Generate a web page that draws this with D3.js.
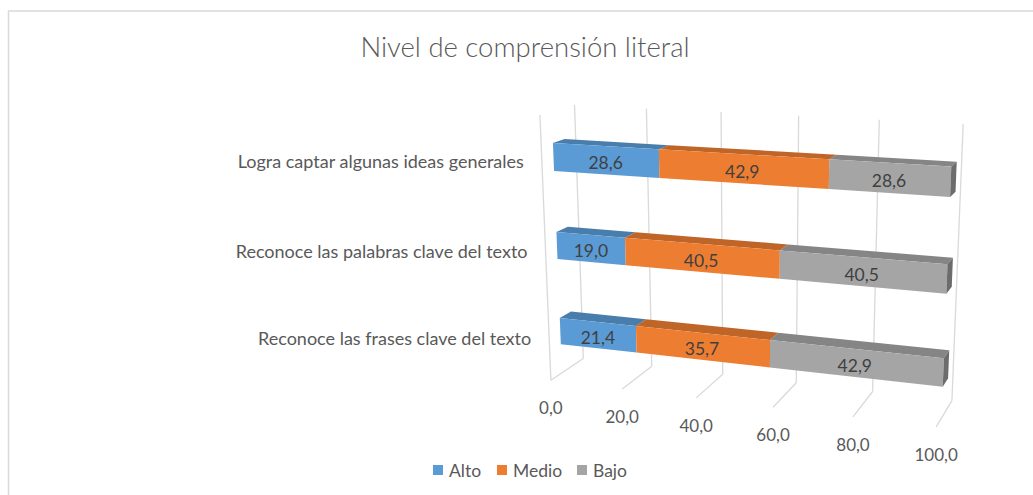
<!DOCTYPE html>
<html>
<head>
<meta charset="utf-8">
<script src="https://cdn.jsdelivr.net/npm/d3@7"></script>
<style>
  body { margin: 0; background: #fff; }
  text { font-family: Lato, "Open Sans", sans-serif; }
</style>
</head>
<body>
<div id="wrapper"></div>
<script>
// chart data
var categories = ["Logra captar algunas ideas generales", "Reconoce las palabras clave del texto", "Reconoce las frases clave del texto"];
var seriesNames = ["Alto", "Medio", "Bajo"];
var alto = [28.6, 19.0, 21.4];
var medio = [42.9, 40.5, 35.7];
var bajo = [28.6, 40.5, 42.9];
var tickValues = [0, 20, 40, 60, 80, 100];
var colors = ["#5b9bd5", "#ed7d31", "#a5a5a5"];

// camera calibration of the 3D frame: [value, height 0..1, depth 0..1] -> screen px
var frameAnchors = [
    [[0, 0, 0], [552, 378]], [[0, 1, 0], [541, 114]],
    [[0, 0, 1], [583, 363]], [[0, 1, 1], [575, 105]],
    [[20, 1, 1], [646, 108]], [[40, 1, 1], [721, 112]], [[60, 1, 1], [798, 116]],
    [[80, 1, 1], [879, 120]], [[100, 1, 1], [963, 125]],
    [[20, 0, 0], [622, 388]], [[40, 0, 0], [696, 398]], [[60, 0, 0], [772, 408]],
    [[80, 0, 0], [853, 418]], [[100, 0, 0], [936, 428]],
    [[20, 0, 1], [651, 367]], [[40, 0, 1], [723, 373]], [[60, 0, 1], [797, 382]],
    [[80, 0, 1], [873, 390]], [[100, 0, 1], [953, 397]],
    // category axis positions at the bar plane (mid depth front)
    [[0, 5 / 6, 0.33], [553, 157]], [[0, 0.5, 0.33], [557, 246]], [[0, 1 / 6, 0.33], [560, 330.5]],
    [[100, 5 / 6, 0.33], [951, 180.5]], [[100, 0.5, 0.33], [948, 280.5]], [[100, 1 / 6, 0.33], [942, 374.5]]
];

function solve(M, r) {
    var n = r.length;
    for (var i = 0; i < n; i++) {
        var p = i;
        for (var k = i + 1; k < n; k++) if (Math.abs(M[k][i]) > Math.abs(M[p][i])) p = k;
        var t = M[i]; M[i] = M[p]; M[p] = t;
        var tr = r[i]; r[i] = r[p]; r[p] = tr;
        for (var k = i + 1; k < n; k++) {
            var f = M[k][i] / M[i][i];
            for (var j = i; j < n; j++) M[k][j] -= f * M[i][j];
            r[k] -= f * r[i];
        }
    }
    var x = new Array(n).fill(0);
    for (var i = n - 1; i >= 0; i--) {
        var s = r[i];
        for (var j = i + 1; j < n; j++) s -= M[i][j] * x[j];
        x[i] = s / M[i][i];
    }
    return x;
}

function draw() {
    var width = 1033, height = 495;
    var svg = d3.select("#wrapper").append("svg")
        .attr("width", width)
        .attr("height", height);

    svg.append("rect")
        .attr("x", 8.5).attr("y", 11)
        .attr("width", 1100).attr("height", 600)
        .attr("fill", "none")
        .attr("stroke", "#d9d9d9")
        .attr("stroke-width", 1.5);

    svg.append("text")
        .attr("x", 525).attr("y", 57)
        .attr("text-anchor", "middle")
        .style("font-size", "27.5px")
        .style("font-weight", 300)
        .attr("fill", "#595959")
        .text("Nivel de comprensión literal");

    var xScale = d3.scaleLinear().domain([0, 100]).range([0, 1]);
    var yScale = d3.scaleBand().domain(categories).range([1, 0])
        .paddingInner(0.69).paddingOuter(0.345);
    var zFront = 0.33, zBack = 0.67;

    // fit projection (DLT least squares), screen normalised around (700,250)
    var A = [], b = [];
    frameAnchors.forEach(function(a) {
        var X = xScale(a[0][0]), Y = a[0][1], Z = a[0][2];
        var u = (a[1][0] - 700) / 300, v = (a[1][1] - 250) / 300;
        A.push([X, Y, Z, 1, 0, 0, 0, 0, -u * X, -u * Y, -u * Z]); b.push(u);
        A.push([0, 0, 0, 0, X, Y, Z, 1, -v * X, -v * Y, -v * Z]); b.push(v);
    });
    var M = [], r = [];
    for (var i = 0; i < 11; i++) {
        M.push(new Array(11).fill(0)); r.push(0);
        for (var k = 0; k < A.length; k++) {
            for (var j = 0; j < 11; j++) M[i][j] += A[k][i] * A[k][j];
            r[i] += A[k][i] * b[k];
        }
    }
    var P = solve(M, r);
    function project(value, Y, Z) {
        var X = xScale(value);
        var w = P[8] * X + P[9] * Y + P[10] * Z + 1;
        return [
            ((P[0] * X + P[1] * Y + P[2] * Z + P[3]) / w) * 300 + 700,
            ((P[4] * X + P[5] * Y + P[6] * Z + P[7]) / w) * 300 + 250
        ];
    }
    function line(pts) { return "M" + pts.map(function(p) { return p.join(","); }).join("L"); }
    function poly(pts) { return line(pts) + "Z"; }

    var grid = svg.append("g")
        .attr("fill", "none")
        .attr("stroke", "#d9d9d9")
        .attr("stroke-width", 1.3);
    tickValues.forEach(function(t) {
        grid.append("path").attr("d", line([project(t, 0, 1), project(t, 1, 1)]));
        grid.append("path").attr("d", line([project(t, 0, 0), project(t, 0, 1)]));
    });
    grid.append("path").attr("d", line([project(0, 0, 0), project(0, 1, 0)]));

    // value axis labels
    var fmt = d3.formatLocale({decimal: ",", thousands: ".", grouping: [3], currency: ["", ""]}).format(".1f");
    svg.append("g").selectAll("text")
        .data(tickValues)
        .join("text")
        .attr("x", function(d) { return project(d, 0, 0)[0]; })
        .attr("y", function(d) { return project(d, 0, 0)[1] + 34; })
        .attr("text-anchor", "middle")
        .style("font-size", "17px")
        .attr("fill", "#595959")
        .text(function(d) { return fmt(d); });

    // category labels
    function catMid(d) { return yScale(d) + yScale.bandwidth() / 2; }
    svg.append("g").selectAll("text")
        .data(categories)
        .join("text")
        .attr("x", function(d) { return project(0, catMid(d), 0)[0] - 18; })
        .attr("y", function(d) { return project(0, catMid(d), 0)[1] + 7; })
        .attr("text-anchor", "end")
        .style("font-size", "18px")
        .attr("fill", "#595959")
        .text(function(d) { return d; });

    // stacked (100%) data
    var rows = categories.map(function(c, i) {
        return {cat: c, Alto: alto[i], Medio: medio[i], Bajo: bajo[i]};
    });
    var stacked = d3.stack().keys(seriesNames).offset(d3.stackOffsetExpand)(rows);

    var bars = svg.append("g");
    categories.forEach(function(c, ci) {
        var yb = yScale(c), yt = yScale(c) + yScale.bandwidth();
        stacked.forEach(function(layer, si) {
            var x0 = layer[ci][0] * 100, x1 = layer[ci][1] * 100;
            var col = colors[si];
            bars.append("path")
                .attr("d", poly([project(x0, yt, zFront), project(x1, yt, zFront), project(x1, yt, zBack), project(x0, yt, zBack)]))
                .attr("fill", d3.color(col).darker(0.6));
            bars.append("path")
                .attr("d", poly([project(x0, yb, zFront), project(x1, yb, zFront), project(x1, yt, zFront), project(x0, yt, zFront)]))
                .attr("fill", col);
            if (si === stacked.length - 1) {
                bars.append("path")
                    .attr("d", poly([project(x1, yb, zFront), project(x1, yb, zBack), project(x1, yt, zBack), project(x1, yt, zFront)]))
                    .attr("fill", d3.color(col).darker(1.2));
            }
            var value = [alto, medio, bajo][si][ci];
            var mid = project((x0 + x1) / 2, (yt + yb) / 2, zFront);
            bars.append("text")
                .attr("x", mid[0])
                .attr("y", mid[1] + 9)
                .attr("text-anchor", "middle")
                .style("font-size", "17.5px")
                .attr("fill", "#404040")
                .text(fmt(value));
        });
    });

    // legend
    var legend = svg.append("g").attr("transform", "translate(433,465)");
    var lx = [0, 64, 144];
    seriesNames.forEach(function(s, i) {
        legend.append("rect")
            .attr("x", lx[i]).attr("y", 0)
            .attr("width", 10).attr("height", 10)
            .attr("fill", colors[i]);
        legend.append("text")
            .attr("x", lx[i] + 16).attr("y", 11.5)
            .style("font-size", "17.5px")
            .attr("fill", "#595959")
            .text(s);
    });
}
draw()
</script>
</body>
</html>
